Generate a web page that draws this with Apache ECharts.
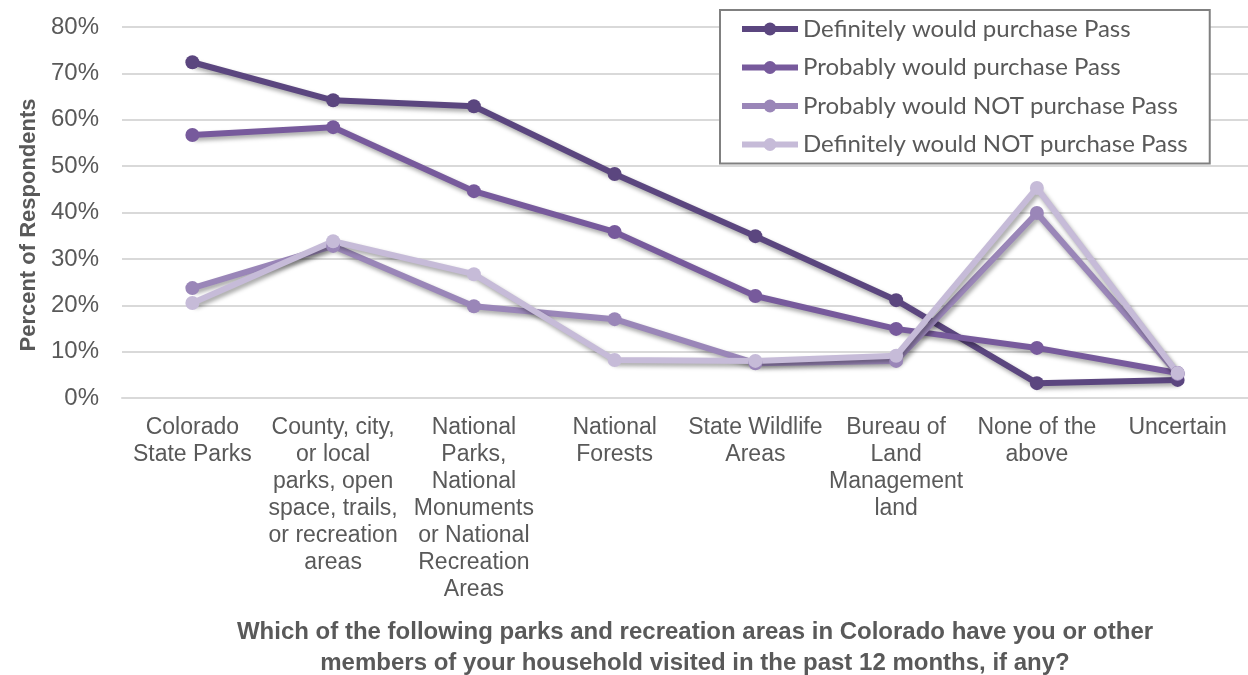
<!DOCTYPE html>
<html>
<head>
<meta charset="utf-8">
<script src="https://cdn.jsdelivr.net/npm/echarts@6/dist/echarts.min.js"></script>
<style>
html,body{margin:0;padding:0;background:#fff;}
#chart{width:1248px;height:675px;}
</style>
</head>
<body>
<div id="chart"></div>
<script>
const categories = [
  "Colorado\nState Parks",
  "County, city,\nor local\nparks, open\nspace, trails,\nor recreation\nareas",
  "National\nParks,\nNational\nMonuments\nor National\nRecreation\nAreas",
  "National\nForests",
  "State Wildlife\nAreas",
  "Bureau of\nLand\nManagement\nland",
  "None of the\nabove",
  "Uncertain"
];
const seriesNames = [
  "Definitely would purchase Pass",
  "Probably would purchase Pass",
  "Probably would NOT purchase Pass",
  "Definitely would NOT purchase Pass"
];
const definitelyPurchase = [72.4, 64.2, 62.9, 48.3, 34.9, 21.1, 3.2, 3.9];
const probablyPurchase = [56.7, 58.4, 44.6, 35.8, 22.0, 14.9, 10.8, 5.4];
const probablyNotPurchase = [23.7, 32.8, 19.8, 17.0, 7.5, 8.0, 39.9, 5.2];
const definitelyNotPurchase = [20.5, 33.8, 26.7, 8.2, 8.0, 9.1, 45.3, 5.4];
const yTicks = [0, 10, 20, 30, 40, 50, 60, 70, 80];
const colors = ["#5b467f", "#775a9c", "#9a86b8", "#c6bbd8"];
const xTitle = "Which of the following parks and recreation areas in Colorado have you or other\nmembers of your household visited in the past 12 months, if any?";
const yTitle = "Percent of Respondents";

const allData = [definitelyPurchase, probablyPurchase, probablyNotPurchase, definitelyNotPurchase];

const chart = echarts.init(document.getElementById('chart'), null, {renderer: 'canvas'});
const option = {
  animation: false,
  backgroundColor: '#ffffff',
  color: colors,
  title: {
    text: xTitle,
    left: 690,
    top: 612,
    textAlign: 'center',
    textStyle: {
      fontFamily: '"Liberation Sans", Arial, sans-serif',
      fontWeight: 'bold',
      fontSize: 24,
      lineHeight: 31,
      color: '#595959'
    }
  },
  legend: {
    orient: 'vertical',
    left: 720,
    top: 10,
    padding: [6, 22, 6, 19],
    itemWidth: 56,
    itemHeight: 16,
    itemGap: 12.5,
    borderColor: '#808080',
    borderWidth: 2,
    backgroundColor: '#ffffff',
    lineStyle: {width: 6},
    textStyle: {
      fontFamily: 'Lato, "Open Sans", sans-serif',
      fontSize: 24,
      lineHeight: 26,
      color: '#595959'
    },
    data: seriesNames
  },
  grid: {
    left: 122,
    top: 27,
    width: 1134,
    height: 371,
    containLabel: false
  },
  xAxis: {
    type: 'category',
    data: categories,
    boundaryGap: true,
    axisLine: {show: true, lineStyle: {color: '#d9d9d9', width: 2}},
    axisTick: {show: false},
    axisLabel: {
      interval: 0,
      margin: 16,
      fontFamily: '"Liberation Sans", Arial, sans-serif',
      fontSize: 23,
      lineHeight: 27,
      color: '#595959',
      align: 'center'
    }
  },
  yAxis: {
    type: 'value',
    min: 0,
    max: 80,
    interval: 10,
    name: yTitle,
    nameLocation: 'middle',
    nameRotate: 90,
    nameGap: 81,
    nameTextStyle: {
      fontFamily: '"Liberation Sans", Arial, sans-serif',
      fontWeight: 'bold',
      fontSize: 22,
      color: '#595959',
      padding: [0, 25, 0, 0]
    },
    axisLine: {show: false},
    axisTick: {show: false},
    splitLine: {show: true, lineStyle: {color: '#d9d9d9', width: 2}},
    axisLabel: {
      margin: 23,
      fontFamily: '"Liberation Sans", Arial, sans-serif',
      fontSize: 24,
      color: '#595959',
      formatter: function (v) { return yTicks.indexOf(v) >= 0 ? v + '%' : ''; }
    }
  },
  series: seriesNames.map(function (name, i) {
    return {
      name: name,
      type: 'line',
      data: allData[i],
      symbol: 'circle',
      symbolSize: 14,
      lineStyle: {
        width: 6,
        color: colors[i],
        shadowColor: 'rgba(0,0,0,0.35)',
        shadowBlur: 4,
        shadowOffsetX: 2,
        shadowOffsetY: 3
      },
      itemStyle: {color: colors[i]},
      emphasis: {disabled: true}
    };
  })
};
chart.setOption(option);
</script>
</body>
</html>
